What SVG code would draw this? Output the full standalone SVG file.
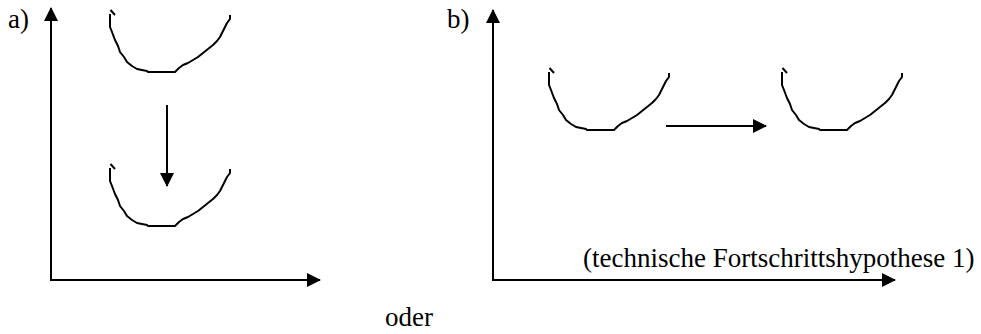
<svg xmlns="http://www.w3.org/2000/svg" width="981" height="334" viewBox="0 0 981 334">
<style>
.ln{stroke:#000;stroke-width:2;fill:none}
.cv{stroke:#000;stroke-width:2;fill:none;stroke-linejoin:round}
.t{font-family:"Liberation Serif","Times New Roman",serif;font-size:27px;fill:#000}
</style>
<defs>
<marker id="ah" viewBox="0 0 14 14" refX="13" refY="7" markerWidth="14" markerHeight="14" markerUnits="userSpaceOnUse" orient="auto">
<path d="M0,0 L14,7 L0,14 Z" fill="#000"/>
</marker>
<path id="curve" d="M0.5,0 L5,5 M0,4 L0,17 L2,22 L5,30 L8,36 L10,42 L14,47 L17,52 L22,56 L27,59 L32,60 L37,61 L38,62 L65,62 L69,58 L73,55 L78,53 L83,50 L88,47 L93,43 L98,39 L103,35 L107,31 L110,27 L113,21 L117,13 L120,9 L120,5"/>
</defs>
<g id="connectors">
<line class="ln" x1="51" y1="281" x2="51" y2="8" marker-end="url(#ah)"/>
<line class="ln" x1="50" y1="280" x2="320" y2="280" marker-end="url(#ah)"/>
<line class="ln" x1="167" y1="105" x2="167" y2="186" marker-end="url(#ah)"/>
<line class="ln" x1="493" y1="281" x2="493" y2="10" marker-end="url(#ah)"/>
<line class="ln" x1="492" y1="280" x2="895" y2="280" marker-end="url(#ah)"/>
<line class="ln" x1="666" y1="126" x2="766" y2="126" marker-end="url(#ah)"/>
</g>
<g id="curve-a-top"><use href="#curve" class="cv" x="110" y="10"/></g>
<g id="curve-a-bottom"><use href="#curve" class="cv" x="110" y="164"/></g>
<g id="curve-b-left"><use href="#curve" class="cv" x="549" y="68"/></g>
<g id="curve-b-right"><use href="#curve" class="cv" x="782" y="68"/></g>
<g id="labels">
<text class="t" x="8" y="28">a)</text>
<text class="t" x="447" y="28">b)</text>
<text class="t" x="583" y="267">(technische Fortschrittshypothese 1)</text>
<text class="t" x="385" y="326">oder</text>
</g>
</svg>
